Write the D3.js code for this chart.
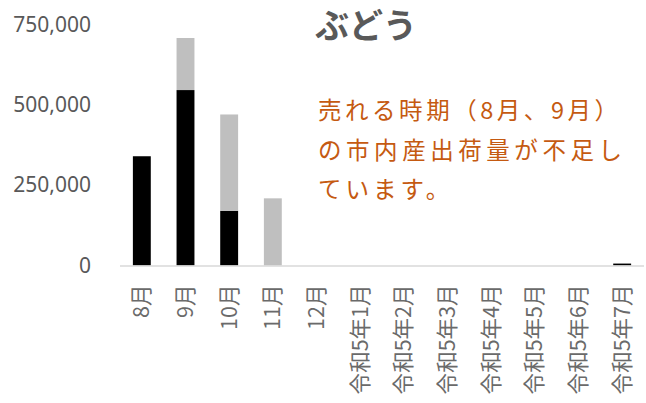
<!DOCTYPE html>
<html><head><meta charset="utf-8">
<script src="https://cdn.jsdelivr.net/npm/d3@7"></script>
<style>body{margin:0;background:#fff}svg{display:block}</style>
</head><body>
<svg id="chart" width="646" height="403"></svg>
<script>
const categories = ["8月","9月","10月","11月","12月","令和5年1月","令和5年2月","令和5年3月","令和5年4月","令和5年5月","令和5年6月","令和5年7月"];
const blackValues = [340000,546000,170000,0,0,0,0,0,0,0,0,6000];
const grayValues  = [0,162000,300000,209000,0,0,0,0,0,0,0,0];
const yTicks = [0,250000,500000,750000];
const title = "ぶどう";
const noteLines = ["売れる時期（8月、9月）","の市内産出荷量が不足し","ています。"];

const svg = d3.select("#chart");
const x = d3.scaleBand().domain(categories).range([120,644]).paddingInner(0.59).paddingOuter(0.295);
const y = d3.scaleLinear().domain([0,750000]).range([265.5,24.5]);

const data = categories.map((c,i)=>({c, b:blackValues[i], g:grayValues[i]}));
svg.append("g").selectAll("rect.b").data(data).join("rect")
  .attr("x",d=>x(d.c)).attr("width",x.bandwidth())
  .attr("y",d=>y(d.b)).attr("height",d=>y(0)-y(d.b)).attr("fill","#000");
svg.append("g").selectAll("rect.g").data(data).join("rect")
  .attr("x",d=>x(d.c)).attr("width",x.bandwidth())
  .attr("y",d=>y(d.b+d.g)).attr("height",d=>y(d.b)-y(d.b+d.g)).attr("fill","#bfbfbf");

svg.append("line").attr("x1",120).attr("x2",644).attr("y1",y(0)+0.5).attr("y2",y(0)+0.5)
  .attr("stroke","#d9d9d9").attr("stroke-width",1.5);

const yAxis = svg.append("g").attr("transform","translate(91,0)")
  .call(d3.axisLeft(y).tickValues(yTicks).tickSize(0).tickPadding(0).tickFormat(d3.format(",")));
yAxis.select(".domain").remove();
yAxis.selectAll("text").attr("font-family","'Noto Sans', sans-serif").attr("font-size",21).attr("fill","#595959");

const xAxis = svg.append("g").attr("transform",`translate(0,${y(0)})`)
  .call(d3.axisBottom(x).tickSize(0));
xAxis.select(".domain").remove();
xAxis.selectAll("text")
  .attr("x",-19).attr("y",0).attr("dy","0.35em")
  .attr("transform","rotate(-90)").attr("text-anchor","end")
  .attr("font-family","'Noto Sans CJK JP', sans-serif").attr("font-size",21.5).attr("fill","#6a6a6a");

svg.append("text").attr("x",366).attr("y",38).attr("text-anchor","middle")
  .attr("font-family","'Noto Sans CJK JP', sans-serif").attr("font-weight",700)
  .attr("font-size",34).attr("fill","#595959").text(title);

const noteY = [119,159,198];
noteLines.forEach((t,i)=>{
  const el = svg.append("text").attr("x",318).attr("y",noteY[i])
    .attr("font-family","'Noto Sans CJK JP', sans-serif").attr("font-size",23.5)
    .attr("fill","#c55a11").text(t);
  if(i===0){ el.attr("textLength",300).attr("lengthAdjust","spacing"); }
  else if(i===1){ el.attr("textLength",304).attr("lengthAdjust","spacing"); }
  else { el.attr("letter-spacing",4); }
});
</script>
</body></html>
